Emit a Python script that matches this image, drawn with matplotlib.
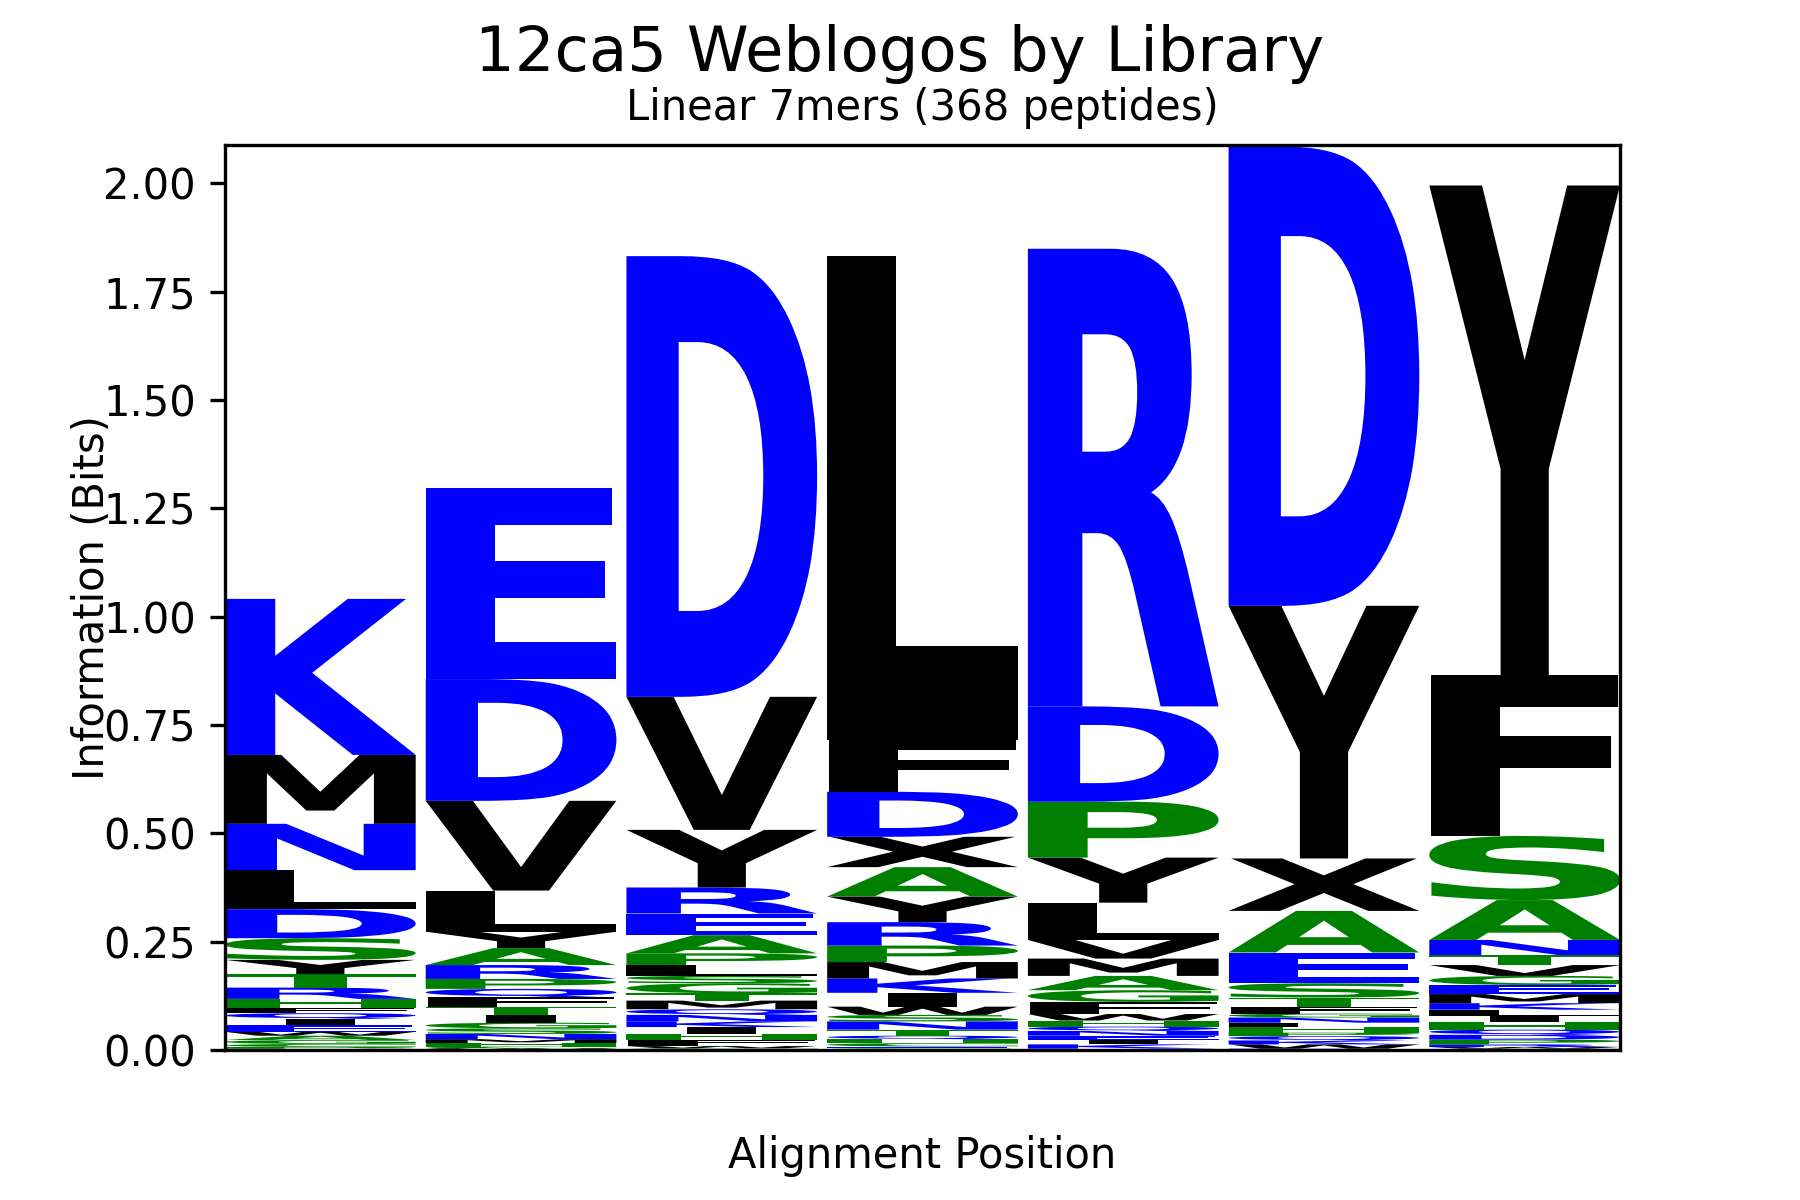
import matplotlib
matplotlib.use("Agg")
import matplotlib.pyplot as plt
from matplotlib.textpath import TextPath
from matplotlib.patches import PathPatch
from matplotlib.font_manager import FontProperties
from matplotlib.transforms import Affine2D

# ---------------- data (letters listed top -> bottom, heights in bits) ----------------
positions = [0, 1, 2, 3, 4, 5, 6]

pos1_letters = list("KMNLDSYTRHFQIEWAGCPV")
pos1_bits = [0.360, 0.159, 0.107, 0.090, 0.067, 0.050, 0.033, 0.031, 0.026, 0.020,
             0.013, 0.013, 0.015, 0.015, 0.009, 0.010, 0.009, 0.007, 0.004, 0.003]

pos2_letters = list("EDVLYARPQFTIGSNMHCW")
pos2_bits = [0.442, 0.281, 0.207, 0.095, 0.038, 0.039, 0.032, 0.023, 0.019, 0.022,
             0.019, 0.018, 0.013, 0.013, 0.012, 0.009, 0.008, 0.004, 0.004]

pos3_letters = list("DVYREAPLSGTMQNKIHFWC")
pos3_bits = [1.017, 0.307, 0.133, 0.060, 0.050, 0.042, 0.027, 0.025, 0.017, 0.023,
             0.017, 0.020, 0.013, 0.015, 0.013, 0.015, 0.014, 0.015, 0.005, 0.004]

pos4_letters = list("LFDXAYRPMKIWSNTQHCEG")
pos4_bits = [1.118, 0.119, 0.104, 0.070, 0.068, 0.059, 0.054, 0.038, 0.038, 0.033,
             0.032, 0.019, 0.015, 0.019, 0.014, 0.008, 0.009, 0.008, 0.004, 0.004]

pos5_letters = list("RDPYLVMAGFWHQNEIKT")
pos5_bits = [1.056, 0.220, 0.129, 0.104, 0.086, 0.043, 0.040, 0.033, 0.027, 0.028,
             0.015, 0.014, 0.010, 0.011, 0.010, 0.010, 0.010, 0.003]

pos6_letters = list("DYXAESTFGNLHPQKWR")
pos6_bits = [1.060, 0.583, 0.121, 0.096, 0.071, 0.033, 0.021, 0.016, 0.009, 0.012,
             0.011, 0.012, 0.008, 0.010, 0.009, 0.010, 0.003]

pos7_letters = list("YFSANTVGEMKLIHQDPRWC")
pos7_bits = [1.130, 0.371, 0.148, 0.092, 0.035, 0.023, 0.025, 0.021, 0.021, 0.021,
             0.015, 0.015, 0.014, 0.017, 0.012, 0.011, 0.011, 0.006, 0.004, 0.003]

title_text = "12ca5 Weblogos by Library"
subtitle_text = "Linear 7mers (368 peptides)"
xlabel_text = "Alignment Position"
ylabel_text = "Information (Bits)"
yticks = [0.00, 0.25, 0.50, 0.75, 1.00, 1.25, 1.50, 1.75, 2.00]

# ---------------- style ----------------
BLUE = "#0000ff"
GREEN = "#008000"
BLACK = "#000000"
color_of = {}
for c in "DEKRNQ":
    color_of[c] = BLUE
for c in "AGSTPHC":
    color_of[c] = GREEN
for c in "LVIMFYWX":
    color_of[c] = BLACK

stacks = [(pos1_letters, pos1_bits), (pos2_letters, pos2_bits), (pos3_letters, pos3_bits),
          (pos4_letters, pos4_bits), (pos5_letters, pos5_bits), (pos6_letters, pos6_bits),
          (pos7_letters, pos7_bits)]

fig = plt.figure(figsize=(6, 4), dpi=300)
ax = fig.add_axes([0.125, 0.125, 0.775, 0.754])

fp = FontProperties(family="DejaVu Sans", weight="bold")
glyph_w = 0.95
ref_w = TextPath((0, 0), "E", size=1, prop=fp).get_extents().width

for x, (letters, bits) in zip(positions, stacks):
    y0 = 0.0
    for ch, h in zip(reversed(letters), reversed(bits)):
        tp = TextPath((0, 0), ch, size=1, prop=fp)
        ext = tp.get_extents()
        cw = max(ext.width, ref_w)
        sx = glyph_w / cw
        sy = h / ext.height
        drawn_w = ext.width * sx
        tr = (Affine2D().translate(-ext.x0, -ext.y0).scale(sx, sy)
              .translate(x - drawn_w / 2.0, y0))
        path = tr.transform_path(tp)
        ax.add_patch(PathPatch(path, facecolor=color_of[ch], edgecolor="none", lw=0))
        y0 += h

ax.set_xlim(-0.475, 6.475)
ax.set_ylim(0, 2.088)
ax.set_xticks([])
ax.set_yticks(yticks)
ax.set_yticklabels([f"{v:.2f}" for v in yticks])
ax.tick_params(axis="y", labelsize=10)

ax.set_xlabel(xlabel_text, fontsize=10)
ax.xaxis.set_label_coords(0.5, -0.094)
ax.set_ylabel(ylabel_text, fontsize=10)
ax.yaxis.set_label_coords(-0.08, 0.5)

ax.set_title(subtitle_text, fontsize=10)
fig.suptitle(title_text, fontsize=15, y=0.98)

fig.savefig("out.png", dpi=300)
